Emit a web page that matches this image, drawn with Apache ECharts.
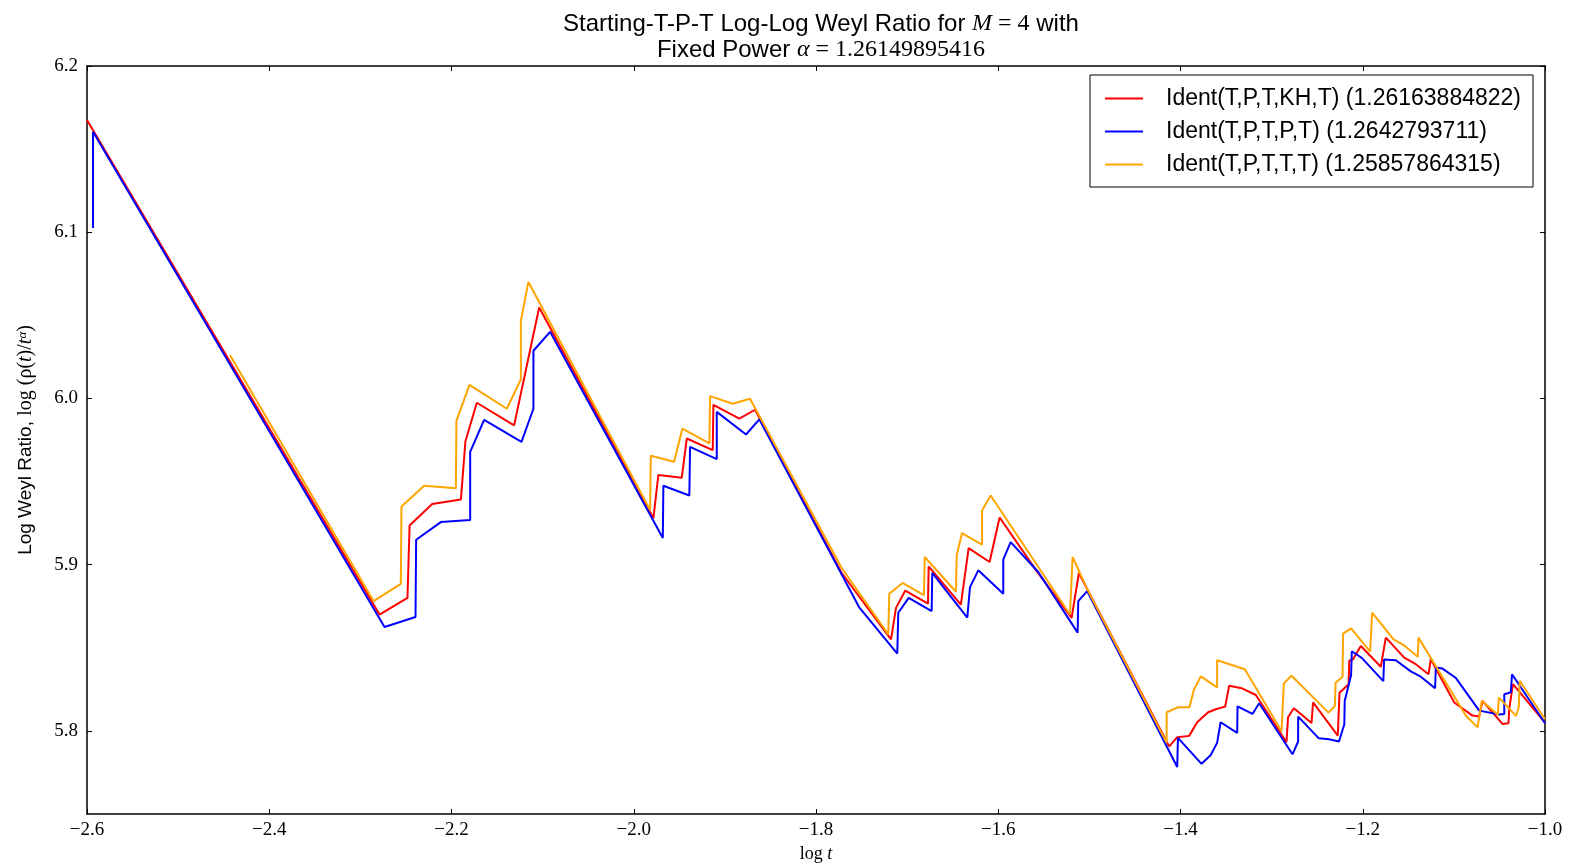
<!DOCTYPE html>
<html>
<head>
<meta charset="utf-8">
<title>Log-Log Weyl Ratio</title>
<script src="https://cdn.jsdelivr.net/npm/echarts@6/dist/echarts.min.js"></script>
<style>
  html, body { margin: 0; padding: 0; background: #fff; }
  #chart { width: 1572px; height: 868px; }
</style>
</head>
<body>
<div id="chart"></div>
<script>
// values: [log t, log Weyl ratio]
const redPoints = [
  [-2.6, 6.1675], [-2.279, 5.870], [-2.2483, 5.880], [-2.246, 5.9236], [-2.2212, 5.9365],
  [-2.1897, 5.9392], [-2.1847, 5.9743], [-2.1722, 5.9974], [-2.1313, 5.9838], [-2.1038, 6.0547],
  [-1.9784, 5.928], [-1.973, 5.954], [-1.9473, 5.9523], [-1.9418, 5.9759], [-1.9133, 5.9689],
  [-1.9126, 5.9962], [-1.8841, 5.9878], [-1.8669, 5.9932], [-1.7718, 5.895], [-1.7177, 5.855],
  [-1.7122, 5.874], [-1.702, 5.8844], [-1.6771, 5.8765], [-1.6764, 5.899], [-1.641, 5.876],
  [-1.6325, 5.91], [-1.6095, 5.9016], [-1.5985, 5.9284], [-1.5576, 5.896], [-1.5195, 5.868],
  [-1.5115, 5.895], [-1.503, 5.886], [-1.4124, 5.7907], [-1.4036, 5.7962], [-1.3905, 5.797],
  [-1.3817, 5.8052], [-1.3697, 5.8112], [-1.3605, 5.8132], [-1.351, 5.8146], [-1.3466, 5.8272],
  [-1.333, 5.8257], [-1.3173, 5.8216], [-1.2837, 5.7932], [-1.282, 5.8082], [-1.2756, 5.8136],
  [-1.2562, 5.8048], [-1.2545, 5.8172], [-1.2274, 5.7972], [-1.2255, 5.823], [-1.2155, 5.828],
  [-1.2148, 5.8422], [-1.2109, 5.843], [-1.2021, 5.8511], [-1.1802, 5.8386], [-1.1747, 5.8561],
  [-1.1545, 5.8441], [-1.1418, 5.8401], [-1.1278, 5.8341], [-1.1253, 5.8431], [-1.0996, 5.8171],
  [-1.0796, 5.8092], [-1.0723, 5.8086], [-1.0686, 5.8181], [-1.0467, 5.8042], [-1.0401, 5.8046],
  [-1.0392, 5.8135], [-1.0351, 5.8281], [-1.0, 5.805]
];

const bluePoints = [
  [-2.5934, 6.1026], [-2.5934, 6.1605], [-2.2735, 5.8625], [-2.2395, 5.8685], [-2.2388, 5.915],
  [-2.2117, 5.9256], [-2.1795, 5.9268], [-2.1795, 5.9679], [-2.1642, 5.9871], [-2.1232, 5.9739],
  [-2.1101, 5.9938], [-2.1101, 6.0287], [-2.0918, 6.0401], [-1.9681, 5.916], [-1.9675, 5.9475],
  [-1.939, 5.9416], [-1.9382, 5.9709], [-1.9089, 5.9635], [-1.9089, 5.9919], [-1.8768, 5.9783],
  [-1.8622, 5.9874], [-1.7528, 5.8745], [-1.7108, 5.8465], [-1.7097, 5.8711], [-1.6983, 5.88],
  [-1.6731, 5.8721], [-1.6724, 5.895], [-1.634, 5.8681], [-1.631, 5.8865], [-1.6219, 5.8966],
  [-1.5945, 5.8825], [-1.5945, 5.903], [-1.5864, 5.9136], [-1.5561, 5.8956], [-1.5129, 5.8591],
  [-1.5122, 5.8781], [-1.5024, 5.8841], [-1.4036, 5.7783], [-1.4028, 5.7958], [-1.3769, 5.7802],
  [-1.367, 5.7853], [-1.3598, 5.7928], [-1.356, 5.8052], [-1.3378, 5.7988], [-1.3374, 5.8148],
  [-1.321, 5.8102], [-1.3137, 5.8166], [-1.2771, 5.7859], [-1.2709, 5.7936], [-1.2709, 5.8086],
  [-1.2482, 5.7955], [-1.237, 5.795], [-1.2261, 5.7936], [-1.2202, 5.804], [-1.2198, 5.818],
  [-1.2128, 5.8335], [-1.212, 5.8479], [-1.2011, 5.8439], [-1.1774, 5.8299], [-1.1766, 5.8429],
  [-1.1637, 5.8425], [-1.1473, 5.8358], [-1.1363, 5.8326], [-1.1206, 5.8257], [-1.1198, 5.8381],
  [-1.1125, 5.8375], [-1.0981, 5.832], [-1.0722, 5.8122], [-1.0503, 5.8099], [-1.0447, 5.8101],
  [-1.0447, 5.822], [-1.0375, 5.8232], [-1.0362, 5.8341], [-1.0, 5.8046]
];

const orangePoints = [
  [-2.443, 6.026], [-2.2856, 5.8781], [-2.2556, 5.8884], [-2.2549, 5.935], [-2.23, 5.9475],
  [-2.1952, 5.9459], [-2.1946, 5.9865], [-2.1803, 6.0082], [-2.1393, 5.9938], [-2.1239, 6.0114],
  [-2.1239, 6.0467], [-2.1156, 6.0701], [-1.9821, 5.9329], [-1.9813, 5.9655], [-1.9557, 5.9619],
  [-1.9466, 5.9819], [-1.917, 5.9729], [-1.9162, 6.0014], [-1.8914, 5.9968], [-1.8724, 5.9998],
  [-1.7718, 5.898], [-1.7207, 5.8581], [-1.7196, 5.8825], [-1.705, 5.889], [-1.6815, 5.8817],
  [-1.6807, 5.9046], [-1.6464, 5.8837], [-1.6456, 5.9056], [-1.6398, 5.919], [-1.6178, 5.912],
  [-1.6178, 5.9326], [-1.6083, 5.9416], [-1.5213, 5.87], [-1.5184, 5.9046], [-1.503, 5.886],
  [-1.4152, 5.7928], [-1.4152, 5.8112], [-1.4025, 5.8142], [-1.3902, 5.8142], [-1.3854, 5.8246],
  [-1.3777, 5.8328], [-1.3598, 5.8262], [-1.3598, 5.8425], [-1.3294, 5.8371], [-1.2891, 5.7998],
  [-1.2866, 5.8286], [-1.2782, 5.8332], [-1.2376, 5.811], [-1.2306, 5.815], [-1.2298, 5.829],
  [-1.2222, 5.8326], [-1.2216, 5.8585], [-1.2128, 5.8617], [-1.1919, 5.8477], [-1.1897, 5.8711],
  [-1.1662, 5.8551], [-1.1538, 5.8511], [-1.1395, 5.8446], [-1.1389, 5.8561], [-1.0866, 5.809],
  [-1.074, 5.8022], [-1.0693, 5.8182], [-1.0518, 5.8097], [-1.0507, 5.82], [-1.0318, 5.809],
  [-1.0288, 5.8142], [-1.0277, 5.8302], [-1.0, 5.807]
];

const seriesNames = [
  'Ident(T,P,T,KH,T) (1.26163884822)',
  'Ident(T,P,T,P,T) (1.2642793711)',
  'Ident(T,P,T,T,T) (1.25857864315)'
];
const seriesColors = ['#ff0000', '#0000ff', '#ffa500'];

const xTicks = [-2.6, -2.4, -2.2, -2.0, -1.8, -1.6, -1.4, -1.2, -1.0];
const yTicks = [5.8, 5.9, 6.0, 6.1, 6.2];

const sans = '"Liberation Sans", Arial, sans-serif';
const serif = '"Liberation Serif", "DejaVu Serif", serif';

const fmt = v => v.toFixed(1).replace('-', '\u2212');

const chart = echarts.init(document.getElementById('chart'));

const baseX = {
  type: 'value',
  min: -2.6,
  max: -1.0,
  axisLine: { show: true, onZero: false, lineStyle: { color: '#000', width: 1.5 } },
  axisTick: { show: true, inside: true, length: 5, customValues: xTicks, lineStyle: { color: '#000' } },
  splitLine: { show: false }
};
const baseY = {
  type: 'value',
  min: 5.75,
  max: 6.2,
  axisLine: { show: true, onZero: false, lineStyle: { color: '#000', width: 1.5 } },
  axisTick: { show: true, inside: true, length: 5, customValues: yTicks, lineStyle: { color: '#000' } },
  splitLine: { show: false }
};

const titleRich = {
  a: { fontFamily: sans, fontWeight: 'normal', fontSize: 24, color: '#000', lineHeight: 26 },
  m: { fontFamily: serif, fontWeight: 'normal', fontStyle: 'italic', fontSize: 24, color: '#000', lineHeight: 26 },
  e: { fontFamily: serif, fontWeight: 'normal', fontSize: 24, color: '#000', lineHeight: 26 }
};

const option = {
  backgroundColor: '#fff',
  animation: false,
  title: {
    left: 816,
    top: 6,
    textAlign: 'center',
    text: '{a|Starting-T-P-T Log-Log Weyl Ratio for }{m|M}{e| = 4}{a| with}\n{a|Fixed Power }{m|\u03b1}{e| = 1.26149895416}',
    textStyle: { fontWeight: 'normal', rich: titleRich }
  },
  legend: {
    orient: 'vertical',
    right: 39,
    top: 75,
    padding: [12, 12, 11, 15],
    icon: 'rect',
    itemWidth: 38,
    itemHeight: 2,
    itemGap: 10,
    borderColor: '#000',
    borderWidth: 1,
    borderRadius: 0,
    backgroundColor: '#fff',
    textStyle: { fontFamily: sans, fontSize: 23, lineHeight: 20, color: '#000', padding: [0, 0, 0, 18] },
    data: seriesNames
  },
  grid: { left: 87, right: 27, top: 66, bottom: 49, containLabel: false },
  xAxis: [
    Object.assign({}, baseX, {
      position: 'bottom',
      name: '{r|log }{i|t}',
      nameLocation: 'middle',
      nameGap: 31,
      nameTextStyle: {
        rich: {
          r: { fontFamily: serif, fontSize: 18, color: '#000' },
          i: { fontFamily: serif, fontStyle: 'italic', fontSize: 18, color: '#000' }
        }
      },
      axisLabel: {
        show: true, customValues: xTicks, margin: 7, formatter: fmt,
        fontFamily: serif, fontSize: 19, color: '#000'
      }
    }),
    Object.assign({}, baseX, { position: 'top', axisLabel: { show: false } })
  ],
  yAxis: [
    Object.assign({}, baseY, {
      position: 'left',
      name: '{a|Log Weyl Ratio, }{r|log}{r| (\u03c1(}{i|t}{r|)/}{i|t}{s|\u03b1}{r|)}',
      nameLocation: 'middle',
      nameGap: 51,
      nameRotate: 90,
      nameTextStyle: {
        rich: {
          a: { fontFamily: sans, fontSize: 19, color: '#000' },
          r: { fontFamily: serif, fontSize: 20, color: '#000' },
          i: { fontFamily: serif, fontStyle: 'italic', fontSize: 20, color: '#000' },
          s: { fontFamily: serif, fontStyle: 'italic', fontSize: 13, color: '#000', verticalAlign: 'top' }
        }
      },
      axisLabel: {
        show: true, customValues: yTicks, margin: 9, formatter: fmt,
        fontFamily: serif, fontSize: 19, color: '#000'
      }
    }),
    Object.assign({}, baseY, { position: 'right', axisLabel: { show: false } })
  ],
  series: [redPoints, bluePoints, orangePoints].map((pts, i) => ({
    name: seriesNames[i],
    type: 'line',
    data: pts,
    xAxisIndex: 0,
    yAxisIndex: 0,
    symbol: 'none',
    showSymbol: false,
    color: seriesColors[i],
    lineStyle: { color: seriesColors[i], width: 2 },
    z: 2 + i
  }))
};

chart.setOption(option);
</script>
</body>
</html>
